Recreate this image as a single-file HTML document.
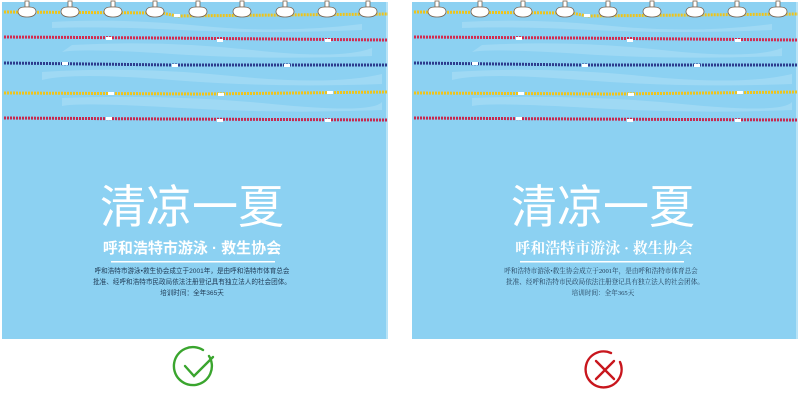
<!DOCTYPE html>
<html><head><meta charset="utf-8"><style>
html,body{margin:0;padding:0;background:#fff;width:800px;height:403px;overflow:hidden}
svg{display:block}
</style></head><body>
<svg width="800" height="403" viewBox="0 0 800 403" xmlns="http://www.w3.org/2000/svg">
<defs>
<g id="pool">
  <rect x="0" y="2" width="386" height="337" fill="#8cd1f2"/>
  <rect x="384" y="2" width="2" height="337" fill="#b7e3f7"/>
  <g fill="#b8e3f7" opacity="0.45">
    <path d="M50 22 Q120 18 200 26 T360 24 L360 30 Q260 34 180 30 T50 28Z"/>
    <path d="M70 45 Q160 40 250 50 T370 48 L370 56 Q260 60 170 54 T60 52Z"/>
    <path d="M40 72 Q130 66 230 76 T380 74 L380 84 Q270 88 170 80 T40 80Z"/>
    <path d="M60 98 Q170 94 270 104 T380 102 L380 110 Q280 114 180 108 T60 106Z"/>
  </g>
  <g fill="none" stroke-width="3" stroke-dasharray="2 1">
    <path d="M2 12 L160 13 L175 16 L386 14" stroke="#f0c419"/>
    <path d="M2 37 L160 38 L386 40" stroke="#d42a4f"/>
    <path d="M2 63 L170 65 L386 65" stroke="#2c3a8c"/>
    <path d="M2 93 L200 94 L386 92" stroke="#f0c419"/>
    <path d="M2 118 L165 119 L386 120" stroke="#c8284e"/>
  </g>
  <g fill="#fff">
    <rect x="172" y="14" width="6" height="3"/>
    <rect x="104" y="37" width="6" height="3"/><rect x="215" y="39" width="6" height="3"/><rect x="323" y="39" width="6" height="3"/>
    <rect x="60" y="62" width="6" height="3"/><rect x="170" y="64" width="6" height="3"/><rect x="282" y="64" width="6" height="3"/>
    <rect x="106" y="92" width="6" height="3"/><rect x="216" y="93" width="6" height="3"/><rect x="325" y="91" width="6" height="3"/>
    <rect x="104" y="117" width="6" height="3"/><rect x="215" y="119" width="6" height="3"/><rect x="323" y="119" width="6" height="3"/>
  </g>
</g>
<g id="float" fill="#fff" stroke="#7a6654" stroke-width="0.8">
  <rect x="-2" y="1" width="4" height="6"/>
  <path d="M-2 7 Q-9 7 -9 12 Q-8 17 0 17 Q8 17 9 12 Q9 7 2 7Z"/>
</g>
</defs>

<use href="#pool" x="2" y="0"/>
<use href="#pool" x="412" y="0"/>
<g>
  <use href="#float" x="27" y="0"/><use href="#float" x="70" y="0"/><use href="#float" x="113" y="0"/>
  <use href="#float" x="155" y="0"/><use href="#float" x="198" y="0"/><use href="#float" x="242" y="0"/>
  <use href="#float" x="285" y="0"/><use href="#float" x="327" y="0"/><use href="#float" x="368" y="0"/>
  <use href="#float" x="437" y="0"/><use href="#float" x="480" y="0"/><use href="#float" x="523" y="0"/>
  <use href="#float" x="565" y="0"/><use href="#float" x="608" y="0"/><use href="#float" x="652" y="0"/>
  <use href="#float" x="695" y="0"/><use href="#float" x="737" y="0"/><use href="#float" x="778" y="0"/>
</g>

<g fill="#fff" text-anchor="middle">
  <text x="192" y="223" font-family="'Liberation Sans','Noto Sans CJK SC',sans-serif" font-size="46">清凉一夏</text>
  <text x="192" y="253" font-family="'Liberation Sans','Noto Sans CJK SC',sans-serif" font-size="15" font-weight="bold">呼和浩特市游泳 · 救生协会</text>
  <rect x="111" y="261" width="164" height="1.5"/>
  <g fill="#1f3a55" font-family="'Liberation Sans','Noto Sans CJK SC',sans-serif" font-size="6.6">
    <text x="192" y="273">呼和浩特市游泳•救生协会成立于2001年，是由呼和浩特市体育总会</text>
    <text x="192" y="284">批准、经呼和浩特市民政局依法注册登记具有独立法人的社会团体。</text>
    <text x="192" y="295">培训时间：全年365天</text>
  </g>

  <text x="603" y="223" font-family="'Liberation Sans','Noto Sans CJK SC',sans-serif" font-size="46">清凉一夏</text>
  <text x="604" y="253" font-family="'Liberation Serif','Noto Serif CJK SC',serif" font-size="15" font-weight="bold">呼和浩特市游泳 · 救生协会</text>
  <rect x="520" y="261" width="164" height="1.5"/>
  <g fill="#1f3a55" font-family="'Liberation Serif','Noto Serif CJK SC',serif" font-size="6.6">
    <text x="601" y="273">呼和浩特市游泳•救生协会成立于2001年，是由呼和浩特市体育总会</text>
    <text x="605" y="284">批准、经呼和浩特市民政局依法注册登记具有独立法人的社会团体。</text>
    <text x="603" y="295">培训时间：全年365天</text>
  </g>
</g>

<g fill="none" stroke="#3aa52e" stroke-width="2.4" stroke-linecap="round">
  <path d="M209 356 A19 19 0 1 1 203 350"/>
  <path d="M185 366 L194 376 L213 357"/>
</g>
<g fill="none" stroke="#c8161d" stroke-width="2.4" stroke-linecap="round">
  <path d="M620 362 A18 18 0 1 1 611 353"/>
  <path d="M596 361 L614 379 M614 361 L596 379"/>
</g>
</svg>
</body></html>
